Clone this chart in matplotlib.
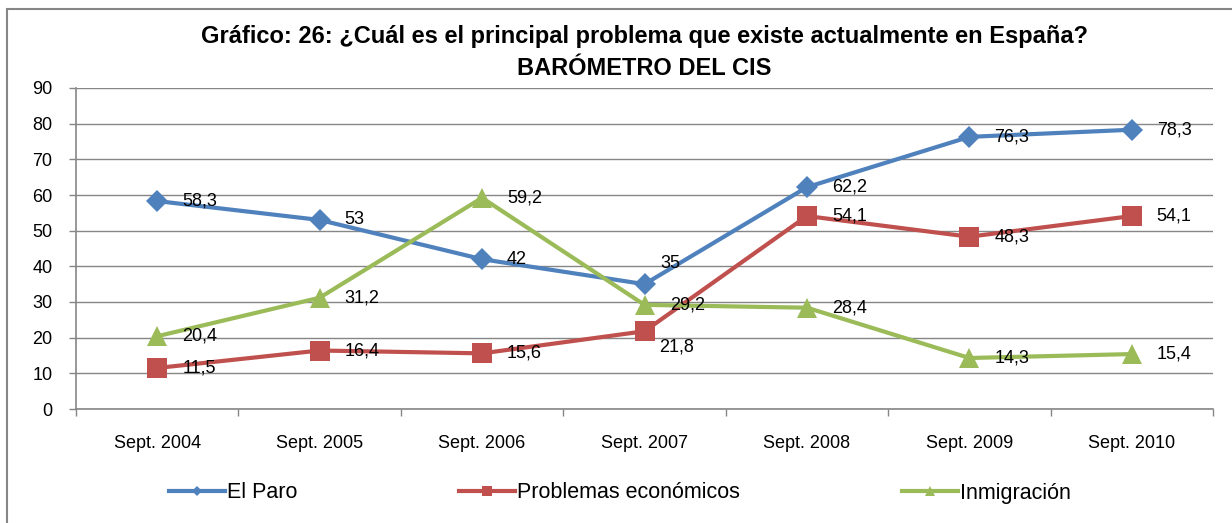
import matplotlib.pyplot as plt
from matplotlib.lines import Line2D
from matplotlib.patches import Rectangle

plt.rcParams['font.family'] = ['Liberation Sans', 'DejaVu Sans']

# Data
categories = ['Sept. 2004', 'Sept. 2005', 'Sept. 2006', 'Sept. 2007',
              'Sept. 2008', 'Sept. 2009', 'Sept. 2010']
paro = [58.3, 53, 42, 35, 62.2, 76.3, 78.3]
economicos = [11.5, 16.4, 15.6, 21.8, 54.1, 48.3, 54.1]
inmigracion = [20.4, 31.2, 59.2, 29.2, 28.4, 14.3, 15.4]

series_names = ['El Paro', 'Problemas económicos', 'Inmigración']
colors = ['#4F81BD', '#C0504D', '#9BBB59']
markers = ['D', 's', '^']
msizes = [11, 14, 15]

# label offsets in pixels (most sit to the right, a couple were nudged)
label_offsets = [
    [(25, 0), (25, 0), (25, 0), (16, 21), (25, 0), (25, 0), (25, 0)],
    [(25, 0), (25, 0), (25, 0), (15, -16), (25, 0), (25, 0), (25, 0)],
    [(25, 0), (25, 0), (25, 0), (26, 0), (25, 0), (25, 0), (25, 0)],
]

W, H = 1232, 523
fig = plt.figure(figsize=(W / 100, H / 100), dpi=100)
ax = fig.add_axes([76 / W, 1 - 409 / H, (1213 - 76) / W, (409 - 88) / H])

x = list(range(len(categories)))
all_series = [paro, economicos, inmigracion]
for vals, col, mk, ms, offs in zip(all_series, colors, markers, msizes, label_offsets):
    ax.plot(x, vals, color=col, lw=3, marker=mk, markersize=ms,
            markeredgewidth=0, zorder=3)
    for xi, v, (dx, dy) in zip(x, vals, offs):
        txt = ('%g' % v).replace('.', ',')
        ax.annotate(txt, (xi, v), xytext=(dx, dy), textcoords='offset pixels',
                    ha='left', va='center', fontsize=13, zorder=5)

ax.set_xlim(-0.5, len(categories) - 0.5)
ax.set_ylim(0, 90)
ax.set_yticks(range(0, 91, 10))
ax.yaxis.grid(True, color='#868686', lw=1)
ax.set_axisbelow(True)

# category boundaries as major ticks, labels centered
ax.set_xticks([i - 0.5 for i in range(len(categories) + 1)])
ax.set_xticklabels([])
ax.set_xticks(x, minor=True)
ax.set_xticklabels(categories, minor=True)
ax.tick_params(axis='x', which='minor', length=0, pad=19, labelsize=13)
ax.tick_params(axis='x', which='major', length=5, color='#868686', width=1)
ax.tick_params(axis='y', length=5, color='#868686', width=1, pad=12, labelsize=13)

for s in ['top', 'right']:
    ax.spines[s].set_visible(False)
for s in ['left', 'bottom']:
    ax.spines[s].set_color('#868686')
    ax.spines[s].set_linewidth(1.2)

# title
cx = (76 + 1213) / 2 / W
fig.text(cx, 1 - 37 / H, 'Gráfico: 26: ¿Cuál es el principal problema que existe actualmente en España?',
         ha='center', va='center', fontsize=17, fontweight='bold')
fig.text(cx, 1 - 69 / H, 'BARÓMETRO DEL CIS',
         ha='center', va='center', fontsize=17, fontweight='bold')

# legend
handles = [Line2D([], [], color=c, lw=3, marker=m, markersize=ms * 0.5, markeredgewidth=0)
           for c, m, ms in zip(colors, markers, msizes)]
fig.legend(handles, series_names, loc='center', bbox_to_anchor=(620 / W, 1 - 493 / H),
           ncol=3, frameon=False, fontsize=15.5, handlelength=2.6, handletextpad=0.1,
           columnspacing=7.5)

# outer chart border
fig.patches.append(Rectangle((7 / W, -0.1), 2, 1 - 9 / H + 0.1, transform=fig.transFigure,
                             fill=False, ec='#868686', lw=1.5))

fig.savefig('out.png', dpi=100)
